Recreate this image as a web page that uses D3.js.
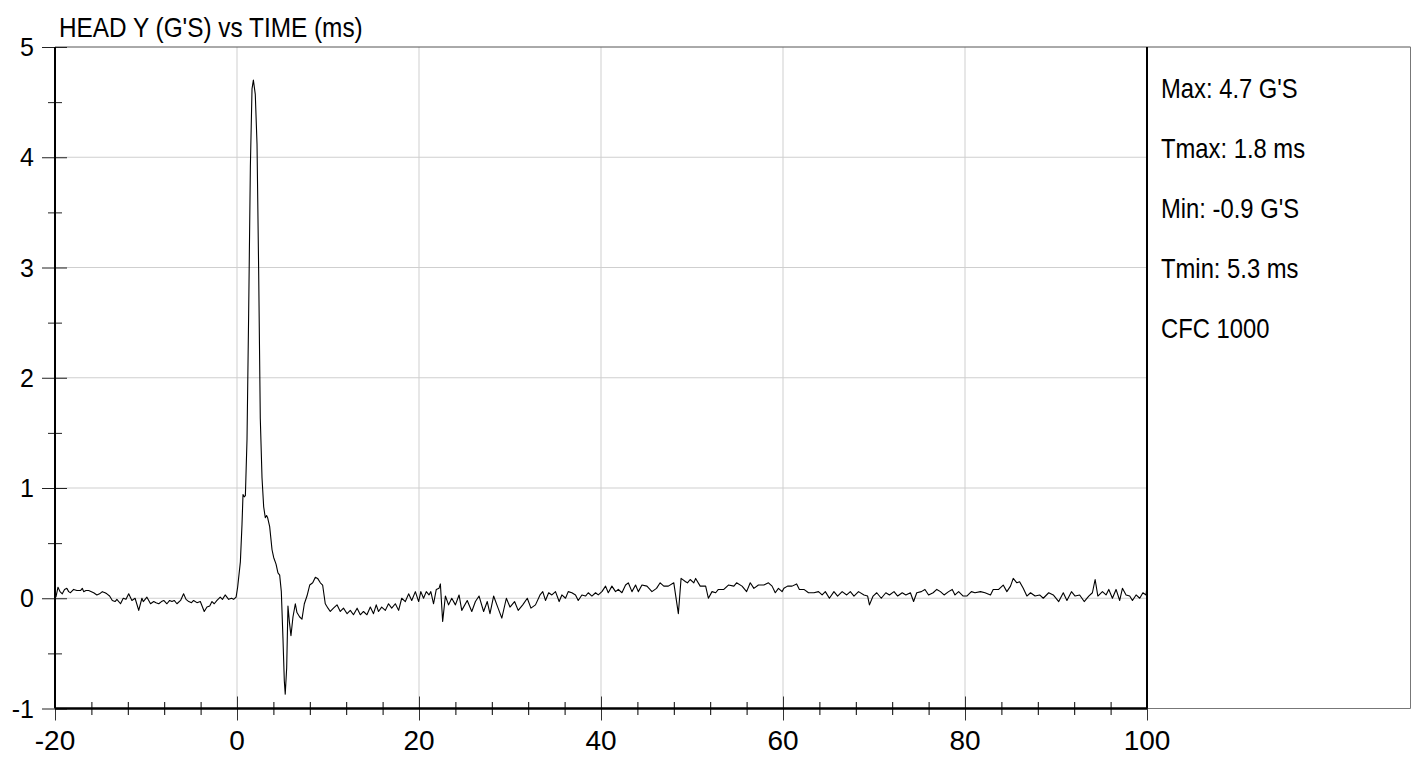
<!DOCTYPE html>
<html><head><meta charset="utf-8">
<script src="https://cdn.jsdelivr.net/npm/d3@7"></script>
<style>body{margin:0;background:#fff} svg{display:block}</style>
</head><body><svg id="c" width="1415" height="757"></svg>
<script>
const chartTitle = "HEAD Y (G'S) vs TIME (ms)";
const statLines = ["Max: 4.7 G'S", "Tmax: 1.8 ms", "Min: -0.9 G'S", "Tmin: 5.3 ms", "CFC 1000"];
const xMajorTicks = [-20, 0, 20, 40, 60, 80, 100];
const xMinorTicks = [-16, -12, -8, -4, 4, 8, 12, 16, 24, 28, 32, 36, 44, 48, 52, 56, 64, 68, 72, 76, 84, 88, 92, 96];
const yMajorTicks = [-1, 0, 1, 2, 3, 4, 5];
const yMinorTicks = [-0.5, 0.5, 1.5, 2.5, 3.5, 4.5];
const xGrid = [0, 20, 40, 60, 80];
const yGrid = [0, 1, 2, 3, 4];

const timeMs = [
-19.9,-19.67,-19.45,-19.2,-18.95,-18.7,-18.5,-18.3,-17.95,-17.6,-17.2,-17.0,-16.85,-16.6,-16.3,-16.0,-15.75,-15.4,-15.1,-14.8,
-14.5,-14.3,-14.0,-13.7,-13.4,-13.2,-12.8,-12.5,-12.2,-11.9,-11.55,-11.2,-10.8,-10.45,-10.3,-9.9,-9.5,-9.15,-8.9,-8.6,
-8.3,-8.05,-7.7,-7.4,-7.15,-6.9,-6.6,-6.2,-5.87,-5.6,-5.3,-5.0,-4.77,-4.4,-4.03,-3.6,-3.3,-3.0,-2.75,-2.5,
-2.2,-1.84,-1.6,-1.3,-0.92,-0.6,-0.37,-0.1,
0.07,0.37,0.55,0.66,0.8,0.92,1.1,1.28,1.47,1.65,1.8,2.01,2.2,2.38,2.56,2.75,2.93,3.11,3.25,3.37,
3.59,3.85,4.03,4.29,4.5,4.69,4.87,5.05,5.2,5.3,5.46,5.6,5.75,5.93,6.15,6.41,6.59,6.89,7.14,7.4,
7.69,7.99,8.32,8.61,8.86,9.16,9.41,
9.7,10.0,10.25,10.6,10.99,11.35,11.7,12.1,12.45,12.8,13.2,13.55,13.9,14.28,14.65,15.0,15.3,15.55,15.9,16.3,
16.65,17.0,17.4,17.76,18.1,18.5,18.86,19.2,19.6,19.96,20.2,20.5,20.8,21.1,21.3,21.6,21.9,22.2,22.35,22.6,
22.9,23.25,23.6,24.0,24.4,24.7,25.3,25.8,26.2,26.6,27.1,27.5,27.8,28.2,28.65,29.1,29.6,30.0,
30.5,30.9,31.4,31.9,32.3,32.8,33.3,33.6,33.9,34.25,34.6,35.0,35.4,35.7,36.1,36.4,36.8,37.2,37.5,37.9,
38.3,38.6,39.0,39.4,39.7,40.1,40.5,40.8,41.2,41.6,41.9,42.3,42.7,43.0,43.4,43.8,44.1,44.5,45.05,45.6,
46.1,46.5,46.9,47.4,48.0,48.5,48.8,49.3,49.5,49.8,50.2,50.4,50.9,51.5,51.8,52.2,52.6,52.9,53.5,54.0,
54.6,54.9,55.5,56.0,56.4,56.8,57.3,57.9,58.4,58.8,59.15,59.5,59.9,60.1,60.5,61.0,61.5,61.8,62.3,62.8,
63.4,63.9,64.3,64.65,65.1,65.6,66.0,66.5,67.0,67.4,67.8,68.3,68.9,69.3,69.5,69.9,70.3,70.8,71.3,71.7,
72.2,72.6,73.1,73.5,74.0,74.35,74.7,75.2,75.6,76.0,76.5,76.9,77.3,77.7,78.2,78.6,78.9,79.3,79.8,80.2,
80.7,81.1,81.7,82.2,82.8,83.1,83.7,84.2,84.6,85.0,85.3,85.7,86.0,86.4,86.8,87.2,87.7,88.2,88.6,89.2,
89.7,90.3,90.8,91.2,91.7,92.1,92.6,93.1,93.6,94.0,94.3,94.6,95.1,95.5,95.8,96.2,96.6,97.0,97.3,97.7,
98.1,98.4,98.8,99.2,99.55,99.9,100.0
];
const headY = [
0.01,0.10,0.06,0.04,0.08,0.09,0.06,0.05,0.08,0.07,0.07,0.09,0.06,0.07,0.07,0.06,0.05,0.03,0.04,0.06,
0.05,0.04,0.02,-0.02,-0.03,-0.01,-0.05,0.00,-0.01,0.04,-0.02,0.00,-0.11,0.00,-0.03,0.01,-0.05,-0.03,-0.04,-0.05,
-0.03,-0.02,-0.05,-0.02,-0.03,-0.02,-0.05,-0.02,0.04,-0.01,-0.03,-0.04,-0.02,-0.04,-0.03,-0.12,-0.08,-0.07,-0.03,-0.05,
-0.02,0.01,-0.01,0.03,-0.01,0.00,-0.01,0.01,
0.10,0.33,0.67,0.94,0.92,0.93,1.44,2.58,3.92,4.62,4.70,4.57,4.12,2.97,1.63,1.09,0.83,0.73,0.75,0.73,
0.65,0.44,0.37,0.31,0.23,0.21,0.06,-0.36,-0.75,-0.87,-0.63,-0.07,-0.21,-0.34,-0.17,-0.05,-0.13,-0.17,-0.19,-0.05,
0.02,0.12,0.14,0.19,0.18,0.14,0.12,
-0.05,-0.09,-0.12,-0.09,-0.06,-0.12,-0.09,-0.14,-0.11,-0.15,-0.09,-0.15,-0.12,-0.15,-0.08,-0.14,-0.06,-0.12,-0.08,-0.11,
-0.05,-0.09,-0.05,-0.11,0.00,-0.03,0.04,-0.02,0.06,-0.03,0.06,0.00,0.06,0.03,0.06,-0.05,0.08,0.09,0.13,-0.21,
0.02,-0.06,0.00,-0.06,0.03,-0.11,-0.02,-0.12,-0.03,0.02,-0.12,-0.03,-0.14,0.02,-0.08,-0.18,0.00,-0.08,
-0.03,-0.11,-0.06,0.00,-0.09,-0.06,0.03,0.06,-0.02,0.05,0.03,0.06,-0.03,0.03,0.00,0.06,0.05,0.03,-0.02,0.03,
0.02,0.05,0.02,0.05,0.03,0.06,0.11,0.05,0.11,0.06,0.08,0.05,0.12,0.14,0.06,0.12,0.06,0.12,0.11,0.06,
0.09,0.14,0.11,0.11,0.14,-0.14,0.18,0.15,0.14,0.17,0.14,0.18,0.11,0.11,0.00,0.06,0.05,0.08,0.08,0.12,
0.11,0.14,0.11,0.06,0.14,0.09,0.12,0.12,0.14,0.11,0.05,0.09,0.06,0.09,0.11,0.11,0.13,0.08,0.08,0.05,
0.05,0.06,0.03,0.06,0.00,0.06,0.02,0.06,0.03,0.06,0.02,0.06,0.03,0.02,-0.06,0.02,0.05,0.00,0.05,0.03,
0.06,0.02,0.05,0.03,0.05,-0.03,0.05,0.06,0.08,0.03,0.05,0.08,0.06,0.03,0.06,0.08,0.03,0.06,0.02,0.02,
0.06,0.05,0.06,0.05,0.03,0.08,0.08,0.12,0.06,0.11,0.18,0.14,0.15,0.09,0.02,0.05,0.02,0.03,0.00,0.05,
0.03,-0.03,0.05,-0.02,0.06,0.02,0.03,-0.03,0.02,0.05,0.17,0.02,0.06,0.03,0.08,0.00,0.08,-0.02,0.09,0.03,
0.02,-0.02,0.03,0.00,0.05,0.03,0.12
];

const svg = d3.select("#c");
const L = 55, R = 1147, T = 47, B = 708.5, PR = 1410.5;
const x = d3.scaleLinear().domain([-20, 100]).range([L, R]);
const y = d3.scaleLinear().domain([-1, 5]).range([B, T]);

// grid
svg.append("g").selectAll("line").data(xGrid).join("line")
  .attr("x1", d => x(d)).attr("x2", d => x(d)).attr("y1", T).attr("y2", B)
  .attr("stroke", "#cfcfcf").attr("stroke-width", 1);
svg.append("g").selectAll("line").data(yGrid).join("line")
  .attr("x1", L).attr("x2", R).attr("y1", d => y(d)).attr("y2", d => y(d))
  .attr("stroke", "#cfcfcf").attr("stroke-width", 1);

// top border and stats panel
svg.append("line").attr("x1", L).attr("x2", PR).attr("y1", T).attr("y2", T)
  .attr("stroke", "#555").attr("stroke-width", 1);
svg.append("line").attr("x1", PR).attr("x2", PR).attr("y1", T).attr("y2", B)
  .attr("stroke", "#777").attr("stroke-width", 1);
svg.append("line").attr("x1", R).attr("x2", PR).attr("y1", B).attr("y2", B)
  .attr("stroke", "#777").attr("stroke-width", 1);

// data line
const line = d3.line().x((d, i) => x(timeMs[i])).y(d => y(d));
svg.append("path").datum(headY).attr("d", line)
  .attr("fill", "none").attr("stroke", "#000").attr("stroke-width", 1.1)
  .attr("stroke-linejoin", "round");

// y axis
const yAx = svg.append("g").attr("transform", `translate(${L},0)`)
  .call(d3.axisLeft(y).tickValues(yMajorTicks).tickSize(13).tickFormat(""));
yAx.select(".domain").remove();
yAx.selectAll(".tick line").attr("x1", 12).attr("stroke", "#222");
const yAxMin = svg.append("g").attr("transform", `translate(${L},0)`)
  .call(d3.axisLeft(y).tickValues(yMinorTicks).tickSize(7).tickFormat(""));
yAxMin.select(".domain").remove();
yAxMin.selectAll(".tick line").attr("x1", 7).attr("stroke", "#222");
svg.append("g").selectAll("text").data(yMajorTicks).join("text")
  .attr("x", 34).attr("y", d => y(d)).attr("dy", "0.36em")
  .attr("text-anchor", "end").attr("font-family", "'Liberation Sans', Arial, sans-serif")
  .attr("font-size", 25).attr("fill", "#000").text(d => d);

// x axis
const xAx = svg.append("g").attr("transform", `translate(0,${B})`)
  .call(d3.axisBottom(x).tickValues(xMajorTicks).tickSize(12).tickFormat(""));
xAx.select(".domain").remove();
xAx.selectAll(".tick line").attr("y1", -12).attr("stroke", "#333");
const xAxMin = svg.append("g").attr("transform", `translate(0,${B})`)
  .call(d3.axisBottom(x).tickValues(xMinorTicks).tickSize(6.5).tickFormat(""));
xAxMin.select(".domain").remove();
xAxMin.selectAll(".tick line").attr("y1", -6.5).attr("stroke", "#000");
svg.append("g").selectAll("text").data(xMajorTicks).join("text")
  .attr("x", d => x(d)).attr("y", 750)
  .attr("text-anchor", "middle").attr("font-family", "'Liberation Sans', Arial, sans-serif")
  .attr("font-size", 28).attr("fill", "#000").text(d => d);

// axis lines
svg.append("line").attr("x1", L).attr("x2", L).attr("y1", T).attr("y2", B)
  .attr("stroke", "#000").attr("stroke-width", 2);
svg.append("line").attr("x1", L).attr("x2", R).attr("y1", B).attr("y2", B)
  .attr("stroke", "#000").attr("stroke-width", 2.5);
svg.append("line").attr("x1", R).attr("x2", R).attr("y1", T).attr("y2", B)
  .attr("stroke", "#000").attr("stroke-width", 2);

// title
svg.append("text").attr("transform", "translate(59,37) scale(0.87,1)")
  .attr("font-family", "'Liberation Sans', Arial, sans-serif").attr("font-size", 28)
  .attr("fill", "#000").text(chartTitle);

// stats
svg.append("g").selectAll("text").data(statLines).join("text")
  .attr("transform", (d, i) => `translate(1161,${98 + 60 * i}) scale(0.85,1)`)
  .attr("font-family", "'Liberation Sans', Arial, sans-serif").attr("font-size", 28)
  .attr("fill", "#000").text(d => d);
</script></body></html>
